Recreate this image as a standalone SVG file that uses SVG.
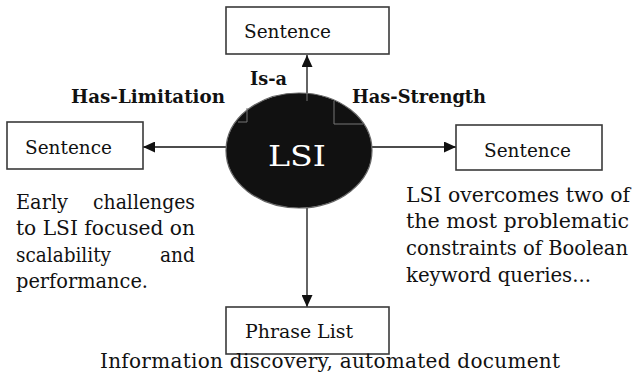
<svg xmlns="http://www.w3.org/2000/svg" width="638" height="381" viewBox="0 0 638 381">
<style>
.box{fill:#fff;stroke:#3a3a3a;stroke-width:1.6}
.t{font-family:"DejaVu Serif","Liberation Serif",serif;font-size:19px;fill:#111}
.p{font-family:"DejaVu Serif","Liberation Serif",serif;font-size:20px;fill:#111}
.b{font-family:"DejaVu Serif","Liberation Serif",serif;font-size:18px;font-weight:bold;fill:#111}
.edge{stroke:#111;stroke-width:1.3;fill:none}
.mark{stroke:#777;stroke-width:1;fill:none}
</style>
<defs>
<marker id="ah" viewBox="0 0 12 11" refX="12" refY="5.5" markerWidth="12" markerHeight="11" markerUnits="userSpaceOnUse" orient="auto">
<path d="M0,0 L12,5.5 L0,11 Z" fill="#111"/>
</marker>
</defs>
<rect width="638" height="381" fill="#fff"/>
<g id="connectors">
<line class="edge" x1="307" y1="100" x2="307" y2="55" marker-end="url(#ah)"/>
<line class="edge" x1="226" y1="147" x2="143" y2="147" marker-end="url(#ah)"/>
<line class="edge" x1="372" y1="147" x2="456" y2="147" marker-end="url(#ah)"/>
<line class="edge" x1="307" y1="208" x2="307" y2="307" marker-end="url(#ah)"/>
</g>
<g id="lsi">
<ellipse cx="299" cy="150.5" rx="73" ry="57.5" fill="#111" stroke="#666" stroke-width="1.2"/>
<path class="mark" d="M307,93 V101 M247,108 V122 H238 M334,101 V124 H363"/>
<text x="297" y="166" text-anchor="middle" style="font-family:'DejaVu Serif','Liberation Serif',serif;font-size:28px;fill:#fff" textLength="58" lengthAdjust="spacingAndGlyphs">LSI</text>
</g>
<g id="sentence-top">
<rect class="box" x="226" y="7" width="163" height="47"/>
<text class="t" x="244" y="38" textLength="87" lengthAdjust="spacingAndGlyphs">Sentence</text>
</g>
<g id="sentence-left">
<rect class="box" x="7" y="122" width="136" height="47"/>
<text class="t" x="25" y="154" textLength="87" lengthAdjust="spacingAndGlyphs">Sentence</text>
</g>
<g id="sentence-right">
<rect class="box" x="456" y="125" width="146" height="45"/>
<text class="t" x="484" y="157" textLength="87" lengthAdjust="spacingAndGlyphs">Sentence</text>
</g>
<g id="phrase-list">
<rect class="box" x="226" y="307" width="163" height="47"/>
<text class="t" x="245" y="338" textLength="108" lengthAdjust="spacingAndGlyphs">Phrase List</text>
</g>
<g id="labels">
<text class="b" x="250" y="85" textLength="37" lengthAdjust="spacingAndGlyphs">Is-a</text>
<text class="b" x="71" y="103" textLength="154" lengthAdjust="spacingAndGlyphs">Has-Limitation</text>
<text class="b" x="352" y="103" textLength="134" lengthAdjust="spacingAndGlyphs">Has-Strength</text>
</g>
<g id="text-left">
<text class="p" x="16" y="209" textLength="52" lengthAdjust="spacingAndGlyphs">Early</text>
<text class="p" x="93" y="209" textLength="102" lengthAdjust="spacingAndGlyphs">challenges</text>
<text class="p" x="16" y="235" textLength="179" lengthAdjust="spacingAndGlyphs">to LSI focused on</text>
<text class="p" x="16" y="262" textLength="95" lengthAdjust="spacingAndGlyphs">scalability</text>
<text class="p" x="160" y="262" textLength="35" lengthAdjust="spacingAndGlyphs">and</text>
<text class="p" x="16" y="288" textLength="132" lengthAdjust="spacingAndGlyphs">performance.</text>
</g>
<g id="text-right">
<text class="p" x="406" y="202" textLength="224" lengthAdjust="spacingAndGlyphs">LSI overcomes two of</text>
<text class="p" x="406" y="228" textLength="223" lengthAdjust="spacingAndGlyphs">the most problematic</text>
<text class="p" x="406" y="255" textLength="222" lengthAdjust="spacingAndGlyphs">constraints of Boolean</text>
<text class="p" x="406" y="282" textLength="185" lengthAdjust="spacingAndGlyphs">keyword queries...</text>
</g>
<g id="text-bottom">
<text class="p" x="100" y="368" textLength="460" lengthAdjust="spacing">Information discovery, automated document</text>
</g>
</svg>
